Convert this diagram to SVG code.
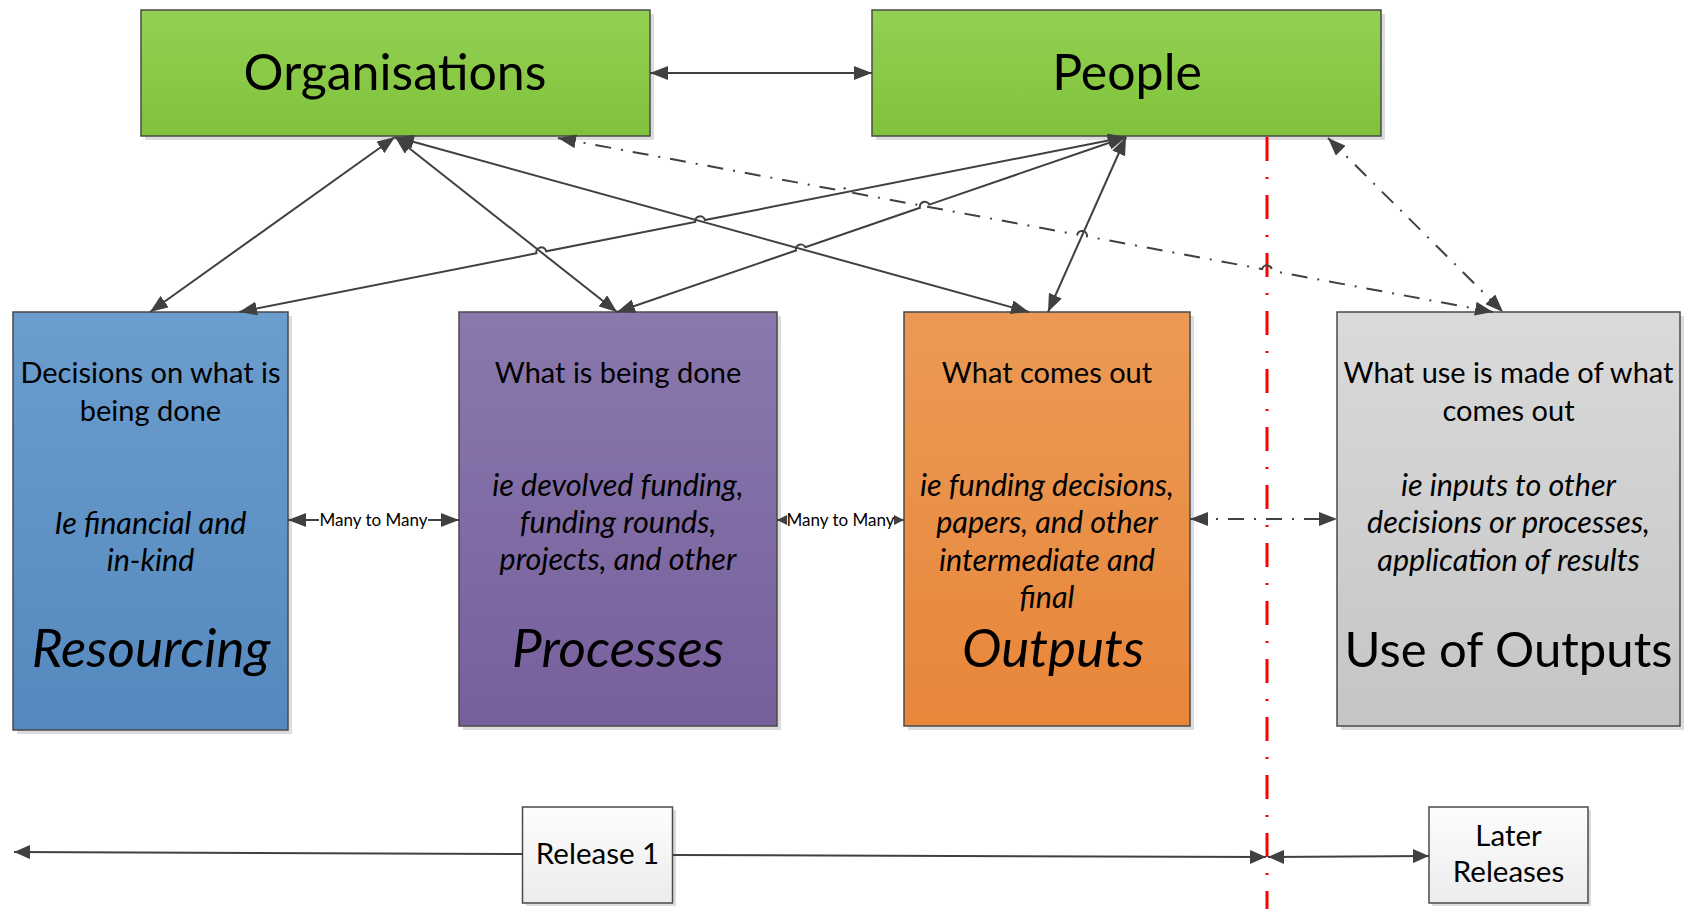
<svg xmlns="http://www.w3.org/2000/svg" width="1684" height="909" viewBox="0 0 1684 909">
<defs>
<linearGradient id="gGreen" x1="0" y1="0" x2="0" y2="1"><stop offset="0" stop-color="#93d152"/><stop offset="1" stop-color="#80c23b"/></linearGradient>
<linearGradient id="gBlue" x1="0" y1="0" x2="0" y2="1"><stop offset="0" stop-color="#6b9dcd"/><stop offset="1" stop-color="#5588be"/></linearGradient>
<linearGradient id="gPurple" x1="0" y1="0" x2="0" y2="1"><stop offset="0" stop-color="#8a79ad"/><stop offset="1" stop-color="#775f9c"/></linearGradient>
<linearGradient id="gOrange" x1="0" y1="0" x2="0" y2="1"><stop offset="0" stop-color="#eb9a56"/><stop offset="1" stop-color="#e8863a"/></linearGradient>
<linearGradient id="gGray" x1="0" y1="0" x2="0" y2="1"><stop offset="0" stop-color="#dadada"/><stop offset="1" stop-color="#c5c5c5"/></linearGradient>
<linearGradient id="gWhite" x1="0" y1="0" x2="0" y2="1"><stop offset="0" stop-color="#fdfdfd"/><stop offset="1" stop-color="#ececec"/></linearGradient>
<marker id="ah" viewBox="0 0 18 14" refX="18" refY="7" markerWidth="18" markerHeight="14" markerUnits="userSpaceOnUse" orient="auto-start-reverse"><path d="M0,0 L18,7 L0,14 z" fill="#404040"/></marker>
<marker id="ahs" viewBox="0 0 10 10" refX="10" refY="5" markerWidth="10" markerHeight="10" markerUnits="userSpaceOnUse" orient="auto-start-reverse"><path d="M0,0 L10,5 L0,10 z" fill="#404040"/></marker>
<marker id="aht" viewBox="0 0 16 14" refX="16" refY="7" markerWidth="16" markerHeight="14" markerUnits="userSpaceOnUse" orient="auto-start-reverse"><path d="M0,0 L16,7 L0,14 z" fill="#404040"/></marker>
</defs>
<style>
.box{stroke:#4a4a4a;stroke-width:1.5}
.shadow{fill:#dcdcdc}
.t{font-family:Lato,"Liberation Sans",sans-serif;fill:#000;text-anchor:middle}
.body{font-size:29px}
.it{font-size:30.5px;font-style:italic}
.title{font-size:49px}
.ttl-it{font-size:53px;font-style:italic}
.head{font-size:50px}
.rel{font-size:29.5px}
.lbl{font-family:Lato,"Liberation Sans",sans-serif;font-size:17px;fill:#000;text-anchor:middle}
.c{fill:none;stroke:#404040;stroke-width:2}
.both{marker-start:url(#ah);marker-end:url(#ah)}
.dd{stroke-dasharray:16 10 2 10}
.red{fill:none;stroke:#ff0000;stroke-width:3;stroke-dasharray:24 16 2 16}
</style>

<g id="organisations">
<rect class="shadow" x="145" y="14" width="509" height="126"/>
<rect class="box" x="141" y="10" width="509" height="126" fill="url(#gGreen)"/>
<text class="t head" x="395" y="90">Organisations</text>
</g>
<g id="people">
<rect class="shadow" x="876" y="14" width="509" height="126"/>
<rect class="box" x="872" y="10" width="509" height="126" fill="url(#gGreen)"/>
<text class="t head" x="1127" y="90">People</text>
</g>
<g id="resourcing">
<rect class="shadow" x="17" y="316" width="275" height="418"/>
<rect class="box" x="13" y="312" width="275" height="418" fill="url(#gBlue)"/>
<text class="t body" x="150.5" y="383">Decisions on what is</text>
<text class="t body" x="150.5" y="420.5">being done</text>
<text class="t it" x="150.5" y="534">Ie financial and</text>
<text class="t it" x="150.5" y="571">in-kind</text>
<text class="t ttl-it" x="151" y="667">Resourcing</text>
</g>
<g id="processes">
<rect class="shadow" x="463" y="316" width="318" height="414"/>
<rect class="box" x="459" y="312" width="318" height="414" fill="url(#gPurple)"/>
<text class="t body" x="618" y="383">What is being done</text>
<text class="t it" x="618" y="496">ie devolved funding,</text>
<text class="t it" x="618" y="533">funding rounds,</text>
<text class="t it" x="618" y="570">projects, and other</text>
<text class="t ttl-it" x="618" y="667">Processes</text>
</g>
<g id="outputs">
<rect class="shadow" x="908" y="316" width="286" height="414"/>
<rect class="box" x="904" y="312" width="286" height="414" fill="url(#gOrange)"/>
<text class="t body" x="1047" y="383">What comes out</text>
<text class="t it" x="1047" y="495.5">ie funding decisions,</text>
<text class="t it" x="1047" y="533">papers, and other</text>
<text class="t it" x="1047" y="570.5">intermediate and</text>
<text class="t it" x="1047" y="608">final</text>
<text class="t ttl-it" x="1053" y="667">Outputs</text>
</g>
<g id="use-of-outputs">
<rect class="shadow" x="1341" y="316" width="343" height="414"/>
<rect class="box" x="1337" y="312" width="343" height="414" fill="url(#gGray)"/>
<text class="t body" x="1508.5" y="383">What use is made of what</text>
<text class="t body" x="1508.5" y="420.5">comes out</text>
<text class="t it" x="1508.5" y="495.5">ie inputs to other</text>
<text class="t it" x="1508.5" y="533">decisions or processes,</text>
<text class="t it" x="1508.5" y="570.5">application of results</text>
<text class="t title" x="1508.5" y="667">Use of Outputs</text>
</g>
<g id="release-1">
<rect class="shadow" x="526" y="810" width="150" height="96"/>
<rect class="box" x="522.5" y="807" width="150" height="96" fill="url(#gWhite)"/>
<text class="t rel" x="597.5" y="864">Release 1</text>
</g>
<g id="later-releases">
<rect class="shadow" x="1432" y="810" width="159" height="96"/>
<rect class="box" x="1429" y="807" width="159" height="96" fill="url(#gWhite)"/>
<text class="t rel" x="1508.5" y="846">Later</text>
<text class="t rel" x="1508.5" y="882">Releases</text>
</g>

<g id="connectors">
<path class="red" d="M1267,137 L1267,909"/>
<path class="c both" d="M650,73 L872,73"/>
<path class="c both" d="M395,137 L150,312"/>
<path class="c both" d="M395,137 L617,312"/>
<path class="c both" d="M396,137 L1029,312"/>
<path class="c both" d="M239,312 L536.4,253.3 A5,5 0 0 1 546.2,251.3 L695.1,222.0 A5,5 0 0 1 704.9,220.1 L1126,137"/>
<path class="c both" d="M617,312 L795.9,250.5 A5,5 0 0 1 805.3,247.3 L919.9,207.8 A5,5 0 0 1 929.3,204.6 L1126,137"/>
<path class="c both" d="M1126,137 L1048,312"/>
<path class="c both dd" d="M558,138 L842.8,191.0 A5,5 0 0 1 852.6,192.8 L1077.2,234.6 A5,5 0 0 1 1087.0,236.4 L1262.1,269.0 A5,5 0 0 1 1271.9,270.8 L1493,312"/>
<path class="c both dd" d="M1328,138 L1503,312"/>
<path class="c both dd" d="M1190,519 L1337,519"/>
<path class="c both" d="M288,520 L459,520"/>
<rect x="319" y="509" width="109" height="22" fill="#fff"/>
<text class="lbl" x="373.5" y="526">Many to Many</text>
<path class="c" d="M777,520 L904,520" style="marker-start:url(#ahs);marker-end:url(#ahs)"/>
<rect x="787" y="509" width="107" height="22" fill="#fff"/>
<text class="lbl" x="840.5" y="526">Many to Many</text>
<path class="c" d="M523,854 L14,852" style="marker-end:url(#aht)"/>
<path class="c" d="M673,855 L1266,857" style="marker-end:url(#aht)"/>
<path class="c" d="M1268,857 L1429,856" style="marker-start:url(#aht);marker-end:url(#aht)"/>
</g>
</svg>
